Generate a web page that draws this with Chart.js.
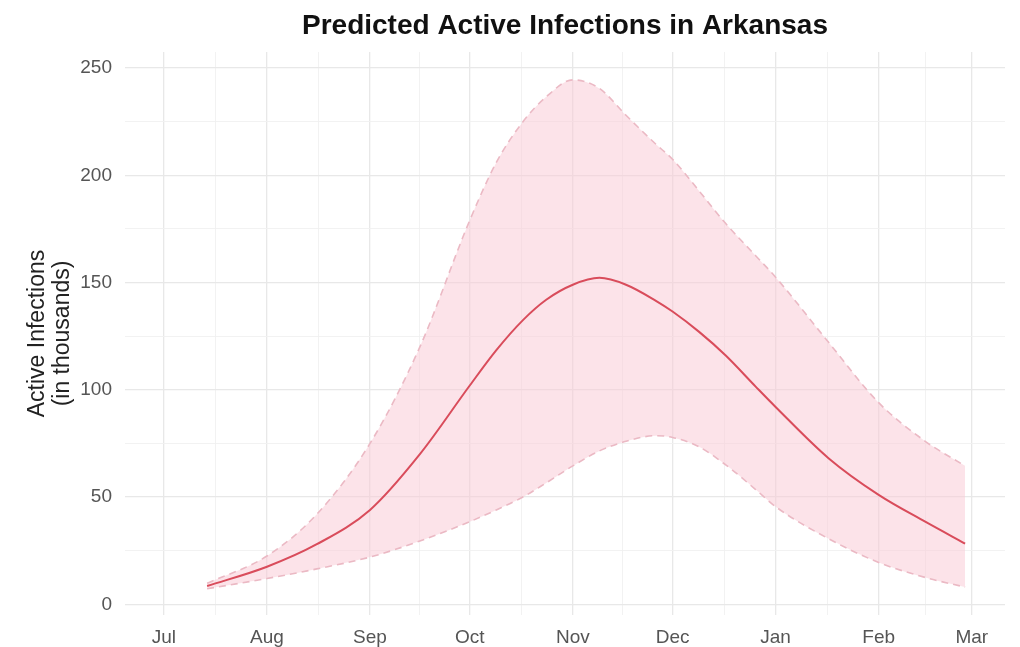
<!DOCTYPE html>
<html>
<head>
<meta charset="utf-8">
<title>Predicted Active Infections in Arkansas</title>
<script src="https://cdn.jsdelivr.net/npm/chart.js@4/dist/chart.umd.min.js"></script>
<style>
  html, body { margin: 0; padding: 0; background: #ffffff; }
  #wrap { width: 1020px; height: 647px; }
</style>
</head>
<body>
<div id="wrap"><canvas id="chart" width="1020" height="647"></canvas></div>
<script>
// Forecast dates and values (active infections, in thousands)
const dates = ['2020-07-14','2020-08-01','2020-08-16','2020-09-01','2020-09-16','2020-10-01','2020-10-09','2020-10-17',
               '2020-10-24','2020-11-01','2020-11-09','2020-11-17','2020-11-26','2020-12-01','2020-12-09','2020-12-17',
               '2020-12-26','2021-01-01','2021-01-17','2021-02-01','2021-02-15','2021-02-27'];
const predicted = [8.5, 17.5, 28, 44, 70, 102, 118.5, 132.5, 142, 149, 152.2, 149, 141.5, 136.5, 127, 116, 101.5, 92, 68, 51, 38.5, 28.3];
const lowerBound = [7.2, 12, 16.5, 22, 29.5, 38.5, 44, 50, 56.6, 64.5, 71.5, 76, 78.6, 77.8, 73.4, 65, 53.5, 45.5, 30.5, 19.5, 12.5, 8];
const upperBound = [9.8, 22.5, 42, 75, 120, 179, 206, 225, 236.6, 244.5, 240.5, 228, 214.5, 207.5, 192.7, 177.5, 162.5, 152.5, 122, 94, 76, 64.5];

// Axis ticks
const monthStarts = ['2020-07-01','2020-08-01','2020-09-01','2020-10-01','2020-11-01','2020-12-01','2021-01-01','2021-02-01','2021-03-01'];
const monthLabels = ['Jul','Aug','Sep','Oct','Nov','Dec','Jan','Feb','Mar'];
const yTickValues = [0, 50, 100, 150, 200, 250];

// Dates become day offsets from the first month shown
const origin = Date.UTC(2020, 6, 1);
const toDay = s => { const [y, m, d] = s.split('-').map(Number); return (Date.UTC(y, m - 1, d) - origin) / 86400000; };
const pts = arr => dates.map((d, i) => ({ x: toDay(d), y: arr[i] }));

const majorX = monthStarts.map(toDay);
const minorX = majorX.slice(1).map((v, i) => (v + majorX[i]) / 2);
const xLabelByDay = new Map(majorX.map((v, i) => [v, monthLabels[i]]));
const minorY = yTickValues.slice(1).map((v, i) => (v + yTickValues[i]) / 2);

const FONT = '"Liberation Sans", Arial, Helvetica, sans-serif';
const majorSet = new Set([...majorX, ...yTickValues]);
const gridColor = ctx => (ctx.tick && majorSet.has(ctx.tick.value)) ? '#e8e8e8' : '#f1f1f1';
const gridWidth = ctx => (ctx.tick && majorSet.has(ctx.tick.value)) ? 1.3 : 0.9;

const curve = { pointRadius: 0, cubicInterpolationMode: 'monotone' };

new Chart(document.getElementById('chart'), {
  type: 'line',
  data: {
    datasets: [
      Object.assign({
        label: 'Predicted',
        data: pts(predicted),
        borderColor: '#d94c5b',
        borderWidth: 2,
        fill: false,
        order: 0
      }, curve),
      Object.assign({
        label: 'Upper',
        data: pts(upperBound),
        borderColor: '#ebb9c4',
        borderWidth: 1.6,
        borderDash: [7, 5],
        fill: false,
        order: 1
      }, curve),
      Object.assign({
        label: 'Lower',
        data: pts(lowerBound),
        borderColor: '#ebb9c4',
        borderWidth: 1.6,
        borderDash: [7, 5],
        fill: { target: 1 },
        backgroundColor: 'rgba(250, 200, 211, 0.5)',
        order: 2
      }, curve)
    ]
  },
  options: {
    responsive: false,
    animation: false,
    events: [],
    layout: { padding: { left: 0, right: 15, top: 0, bottom: 0 } },
    plugins: {
      legend: { display: false },
      tooltip: { enabled: false },
      title: {
        display: true,
        text: 'Predicted Active Infections in Arkansas',
        fullSize: false,
        color: '#111111',
        font: { family: FONT, size: 28, weight: 'bold', lineHeight: 1.2 },
        padding: { top: 9.5, bottom: 8.9 }
      }
    },
    scales: {
      x: {
        type: 'linear',
        min: -11.7,
        max: 253,
        border: { display: false },
        grid: { color: gridColor, lineWidth: gridWidth, drawTicks: false },
        afterBuildTicks: scale => {
          scale.ticks = [...majorX, ...minorX].sort((a, b) => a - b).map(v => ({ value: v }));
        },
        afterFit: scale => { scale.height = 32; },
        ticks: {
          autoSkip: false,
          maxRotation: 0,
          padding: 11,
          color: '#555555',
          font: { family: FONT, size: 19 },
          callback: v => xLabelByDay.has(v) ? xLabelByDay.get(v) : ''
        }
      },
      y: {
        type: 'linear',
        min: -5,
        max: 257.5,
        border: { display: false },
        grid: { color: gridColor, lineWidth: gridWidth, drawTicks: false },
        afterBuildTicks: scale => {
          scale.ticks = [...yTickValues, ...minorY].sort((a, b) => a - b).map(v => ({ value: v }));
        },
        afterFit: scale => { scale.width = 125; },
        ticks: {
          autoSkip: false,
          padding: 13,
          color: '#555555',
          font: { family: FONT, size: 19 },
          callback: v => yTickValues.includes(v) ? String(v) : ''
        },
        title: {
          display: true,
          text: ['Active Infections', '(in thousands)'],
          color: '#222222',
          font: { family: FONT, size: 23, lineHeight: '25px' },
          padding: { top: 25, bottom: 0 }
        }
      }
    }
  }
});
</script>
</body>
</html>
